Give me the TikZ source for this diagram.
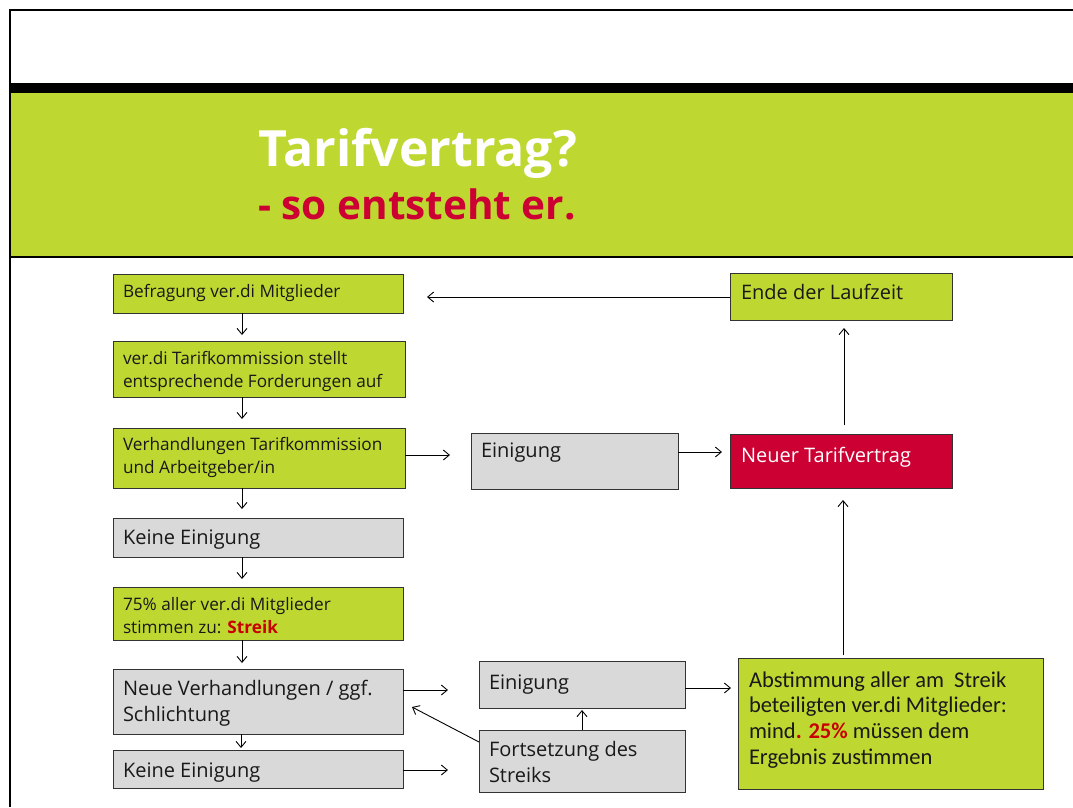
\documentclass[tikz,border=0pt]{standalone}
\usepackage{fontspec}
\setmainfont{Open Sans}
\newfontfamily\carl{Carlito}
\usetikzlibrary{arrows.meta,calc}
\definecolor{vgreen}{RGB}{190,216,49}
\definecolor{vgray}{RGB}{217,217,217}
\definecolor{vred}{RGB}{204,0,51}
\definecolor{sred}{RGB}{200,0,0}
\newcommand\smf{\fontsize{17.2}{23.5}\selectfont}
\newcommand\lgf{\fontsize{20}{26}\selectfont}
\newcommand\mytxt[1]{\parbox[t]{300pt}{\raggedright #1}}
\tikzset{
  bx/.style={draw=black!80, line width=0.9pt, anchor=north west, inner sep=0pt, outer sep=0pt},
  gb/.style={bx, fill=vgreen},
  gy/.style={bx, fill=vgray},
  rb/.style={bx, fill=vred},
  tx/.style={anchor=base west, inner sep=0pt, outer sep=0pt, text=black!90},
  arr/.style={draw=black, line width=0.9pt, -{Straight Barb[length=6pt,width=10pt]}},
}
\begin{document}
\begin{tikzpicture}[x=1pt,y=-1pt]
\useasboundingbox (0,0) rectangle (1073,807);
% frame and header
\fill[black] (11,83) rectangle (1073,93);
\fill[vgreen] (11,93) rectangle (1073,256);
\fill[black] (11,256) rectangle (1073,258);
\draw[line width=2pt] (10,807) -- (10,10) -- (1073,10);
\node[anchor=base west, inner sep=0pt, text=white] (title) at (258,166) {\fontsize{50}{50}\selectfont\bfseries Tarifvertrag?};
\node[anchor=base west, inner sep=0pt, text=vred] (subtitle) at (258,219) {\fontsize{40.5}{40.5}\selectfont\bfseries - so entsteht er.};
% left column boxes
\node[gb, minimum width=290pt, minimum height=39pt] (b1) at (113,274) {};
\node[gb, minimum width=292pt, minimum height=56pt] (b2) at (113,341) {};
\node[gb, minimum width=292pt, minimum height=60pt] (b3) at (113,428) {};
\node[gy, minimum width=290pt, minimum height=39pt] (b4) at (113,518) {};
\node[gb, minimum width=290pt, minimum height=53pt] (b5) at (113,587) {};
\node[gy, minimum width=290pt, minimum height=65pt] (b6) at (113,669) {};
\node[gy, minimum width=290pt, minimum height=38pt] (b7) at (113,750) {};
% right side boxes
\node[gy, minimum width=207pt, minimum height=56pt] (e1) at (471,433) {};
\node[rb, minimum width=222pt, minimum height=54pt] (n1) at (730,434) {};
\node[gb, minimum width=222pt, minimum height=47pt] (l1) at (730,273) {};
\node[gy, minimum width=206pt, minimum height=47pt] (e2) at (479,661) {};
\node[gy, minimum width=206pt, minimum height=62pt] (f1) at (479,730) {};
\node[gb, minimum width=305pt, minimum height=131pt] (a1) at (738,658) {};
% texts
\node[tx] (t1) at ($(b1.north west)+(10,23)$) {\smf Befragung ver.di Mitglieder};
\node[tx] (t2) at ($(b2.north west)+(10,23)$) {\smf\mytxt{ver.di Tarifkommission stellt\\entsprechende Forderungen auf}};
\node[tx] (t3) at ($(b3.north west)+(10,22)$) {\smf\mytxt{Verhandlungen Tarifkommission\\und Arbeitgeber/in}};
\node[tx] (t4) at ($(b4.north west)+(10,26)$) {\lgf Keine Einigung};
\node[tx] (t5) at ($(b5.north west)+(10,23)$) {\smf\mytxt{75\% aller ver.di Mitglieder\\stimmen zu: {\bfseries\color{sred}Streik}}};
\node[tx] (t6) at ($(b6.north west)+(10,26)$) {\lgf\mytxt{Neue Verhandlungen / ggf.\\Schlichtung}};
\node[tx] (t7) at ($(b7.north west)+(10,27)$) {\lgf Keine Einigung};
\node[tx] (t8) at ($(e1.north west)+(10,24)$) {\lgf Einigung};
\node[tx, text=white] (t9) at ($(n1.north west)+(11,28)$) {\lgf Neuer Tarifvertrag};
\node[tx] (t10) at ($(l1.north west)+(11,26)$) {\lgf Ende der Laufzeit};
\node[tx] (t11) at ($(e2.north west)+(10,28)$) {\lgf Einigung};
\node[tx] (t12) at ($(f1.north west)+(10,26)$) {\lgf\mytxt{Fortsetzung des\\Streiks}};
\node[tx] (t13) at ($(a1.north west)+(11,29)$) {\carl\fontsize{22.5}{25.7}\selectfont\mytxt{Abstimmung aller am~ Streik\\beteiligten ver.di Mitglieder:\\mind{\bfseries\color{sred}. 25\%} müssen dem\\Ergebnis zustimmen}};
% connectors
\draw[arr, shorten >=6pt] ($(b1.south west)+(129,0)$) -- ($(b2.north west)+(129,0)$);
\draw[arr, shorten >=9pt] ($(b2.south west)+(129,0)$) -- ($(b3.north west)+(129,0)$);
\draw[arr, shorten >=9pt] ($(b3.south west)+(129,0)$) -- ($(b4.north west)+(129,0)$);
\draw[arr, shorten >=8pt] ($(b4.south west)+(129,0)$) -- ($(b5.north west)+(129,0)$);
\draw[arr, shorten >=6pt] ($(b5.south west)+(129,0)$) -- ($(b6.north west)+(129,0)$);
\draw[arr, shorten >=2pt] ($(b6.south west)+(128,0)$) -- ($(b7.north west)+(128,0)$);
\draw[arr, shorten >=21pt] ($(b3.north east)+(0,27)$) -- ($(e1.north west)+(0,22)$);
\draw[arr, shorten >=8pt] ($(e1.north east)+(0,19)$) -- ($(n1.north west)+(0,18)$);
\draw[arr, shorten <=9pt, shorten >=8pt] ($(n1.north west)+(114,0)$) -- ($(l1.south west)+(114,0)$);
\draw[arr, shorten >=24pt] ($(l1.north west)+(0,24)$) -- ($(b1.north east)+(0,23)$);
\draw[arr, shorten <=3pt, shorten >=12pt] ($(a1.north west)+(105,0)$) -- ($(n1.south west)+(113,0)$);
\draw[arr, shorten >=31pt] ($(b6.north east)+(0,21)$) -- ($(e2.north west)+(0,29)$);
\draw[arr, shorten >=31pt] ($(b7.north east)+(0,20)$) -- ($(f1.north west)+(0,40)$);
\draw[arr, shorten >=2pt] ($(f1.north west)+(103,0)$) -- ($(e2.south west)+(103,0)$);
\draw[arr] ($(f1.north west)+(0,12)$) -- ($(b6.north east)+(9,38)$);
\draw[arr, shorten >=7pt] ($(e2.north east)+(0,27)$) -- ($(a1.north west)+(0,30)$);
\end{tikzpicture}
\end{document}
